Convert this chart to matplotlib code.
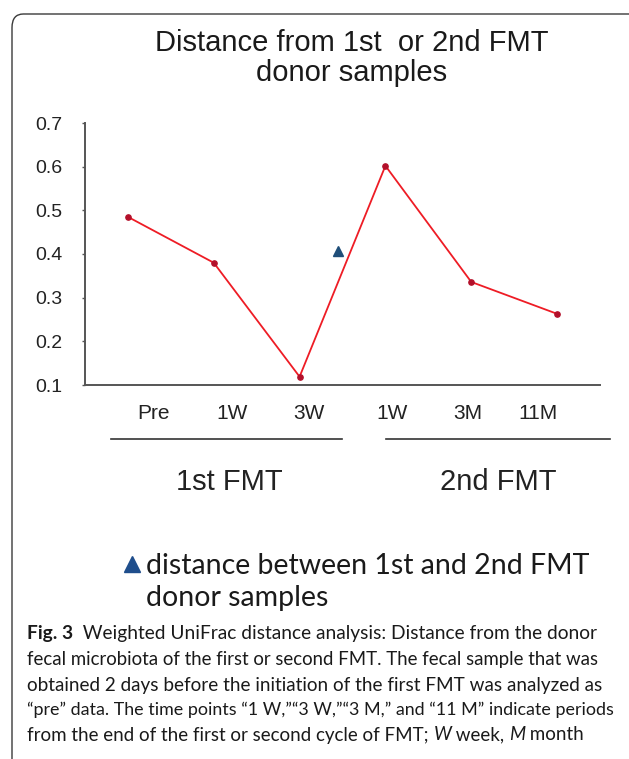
import numpy as np
import matplotlib
matplotlib.use("Agg")
from matplotlib import pyplot as plt
from matplotlib.patches import FancyBboxPatch
from matplotlib.lines import Line2D

# data
time_labels = ["Pre", "1W", "3W", "1W", "3M", "11M"]
distance = [0.485, 0.380, 0.119, 0.602, 0.336, 0.263]
donor_gap_x = 2.45      # between 3W (1st FMT) and 1W (2nd FMT)
donor_gap = 0.407       # distance between 1st and 2nd FMT donor samples
ytick_values = [0.1, 0.2, 0.3, 0.4, 0.5, 0.6, 0.7]
label_x = [0.30, 1.21, 2.11, 3.08, 3.96, 4.78]   # labels sit off the points in the original

caption = [
    [("Fig. 3", "bold", "normal"), ("  Weighted UniFrac distance analysis: Distance from the donor", "normal", "normal")],
    [("fecal microbiota of the first or second FMT. The fecal sample that was", "normal", "normal")],
    [("obtained 2 days before the initiation of the first FMT was analyzed as", "normal", "normal")],
    [("\u201cpre\u201d data. The time points \u201c1 W,\u201d\u201c3 W,\u201d\u201c3 M,\u201d and \u201c11 M\u201d indicate periods", "normal", "normal")],
    [("from the end of the first or second cycle of FMT; ", "normal", "normal"), ("W", "normal", "italic"),
     (" week, ", "normal", "normal"), ("M", "normal", "italic"), (" month", "normal", "normal")],
]
caption_y = [633, 659, 685, 710, 735]
caption_right = [600, 599, 604, 616, 585]   # where each caption line ends in the original

plt.rcParams['font.family'] = ['Liberation Sans', 'DejaVu Sans']

W, H = 629, 759
fig = plt.figure(figsize=(W / 100, H / 100), dpi=100)
fig.patch.set_facecolor("white")

def fx(px):
    return px / W

def fy(py):
    return 1 - py / H

# rounded frame round the whole figure (runs off right and bottom)
frame = FancyBboxPatch((fx(12), fy(775)), fx(650) - fx(12), fy(14) - fy(775),
                       boxstyle="round,pad=0,rounding_size=0.018", transform=fig.transFigure,
                       fill=False, edgecolor="#3a3a3a", linewidth=1.0)
fig.add_artist(frame)

ax = fig.add_axes([fx(85), fy(385), fx(600) - fx(85), fy(123) - fy(385)])

x = np.arange(len(distance))
ax.plot(x, distance, color="#ee1c25", linewidth=1.3, marker="o", markersize=3.8,
        markerfacecolor="#b3102a", markeredgecolor="#b3102a")
ax.plot([donor_gap_x], [donor_gap], marker="^", markersize=6.5, color="#1f4e79", linestyle="none")

ax.set_xlim(-0.5, 5.5)
ax.set_ylim(0.1, 0.7)
ax.set_yticks(ytick_values, [f"{v:.1f}" for v in ytick_values])
ax.set_xticks(label_x, time_labels)
ax.tick_params(axis="x", length=0, pad=14, labelsize=15, labelcolor="#222222")
ax.tick_params(axis="y", length=2, width=1, color="#555555", pad=14.5, labelsize=14, labelcolor="#222222")
for side in ["top", "right"]:
    ax.spines[side].set_visible(False)
for side in ["left", "bottom"]:
    ax.spines[side].set_color("#555555")
    ax.spines[side].set_linewidth(1.4)

# group brackets under the time labels
tr = ax.get_xaxis_transform()
ax.plot([-0.2, 2.49], [-0.206, -0.206], transform=tr, clip_on=False, color="#333333", linewidth=1.2)
ax.plot([3.01, 5.62], [-0.206, -0.206], transform=tr, clip_on=False, color="#333333", linewidth=1.2)
ax.text(1.18, -0.37, "1st FMT", transform=tr, ha="center", va="center", fontsize=21, color="#222222")
ax.text(4.32, -0.37, "2nd FMT", transform=tr, ha="center", va="center", fontsize=21, color="#222222")

# title
fig.text(fx(352), fy(43), "Distance from 1st  or 2nd FMT", ha="center", va="center", fontsize=21, color="#1a1a1a")
fig.text(fx(352), fy(73), "donor samples", ha="center", va="center", fontsize=21, color="#1a1a1a")

# key for the triangle
fig.add_artist(Line2D([fx(132)], [fy(564)], marker="^", markersize=11, color="#1f4e8c",
                      linestyle="none", transform=fig.transFigure))
fig.text(fx(146), fy(566), "distance between 1st and 2nd FMT", ha="left", va="center",
         fontsize=20.5, family="Lato", color="#1a1a1a")
fig.text(fx(146), fy(598), "donor samples", ha="left", va="center",
         fontsize=20.5, family="Lato", color="#1a1a1a")

# caption, drawn piece by piece so bold/italic runs line up;
# each line is sized so it ends where the original one does
renderer = fig.canvas.get_renderer()

def draw_line(row, y, size):
    xpos = fx(27)
    pieces = []
    for text, weight, style in row:
        t = fig.text(xpos, fy(y), text, ha="left", va="center", fontsize=size,
                     family="Lato", weight=weight, style=style, color="#1a1a1a")
        bb = t.get_window_extent(renderer=renderer)
        xpos = bb.x1 / W
        pieces.append(t)
    return pieces, xpos * W

for row, y, right in zip(caption, caption_y, caption_right):
    pieces, end = draw_line(row, y, 14)
    size = 14 * (right - 27) / (end - 27)
    for t in pieces:
        t.remove()
    draw_line(row, y, size)

fig.savefig("out.png", dpi=100)
